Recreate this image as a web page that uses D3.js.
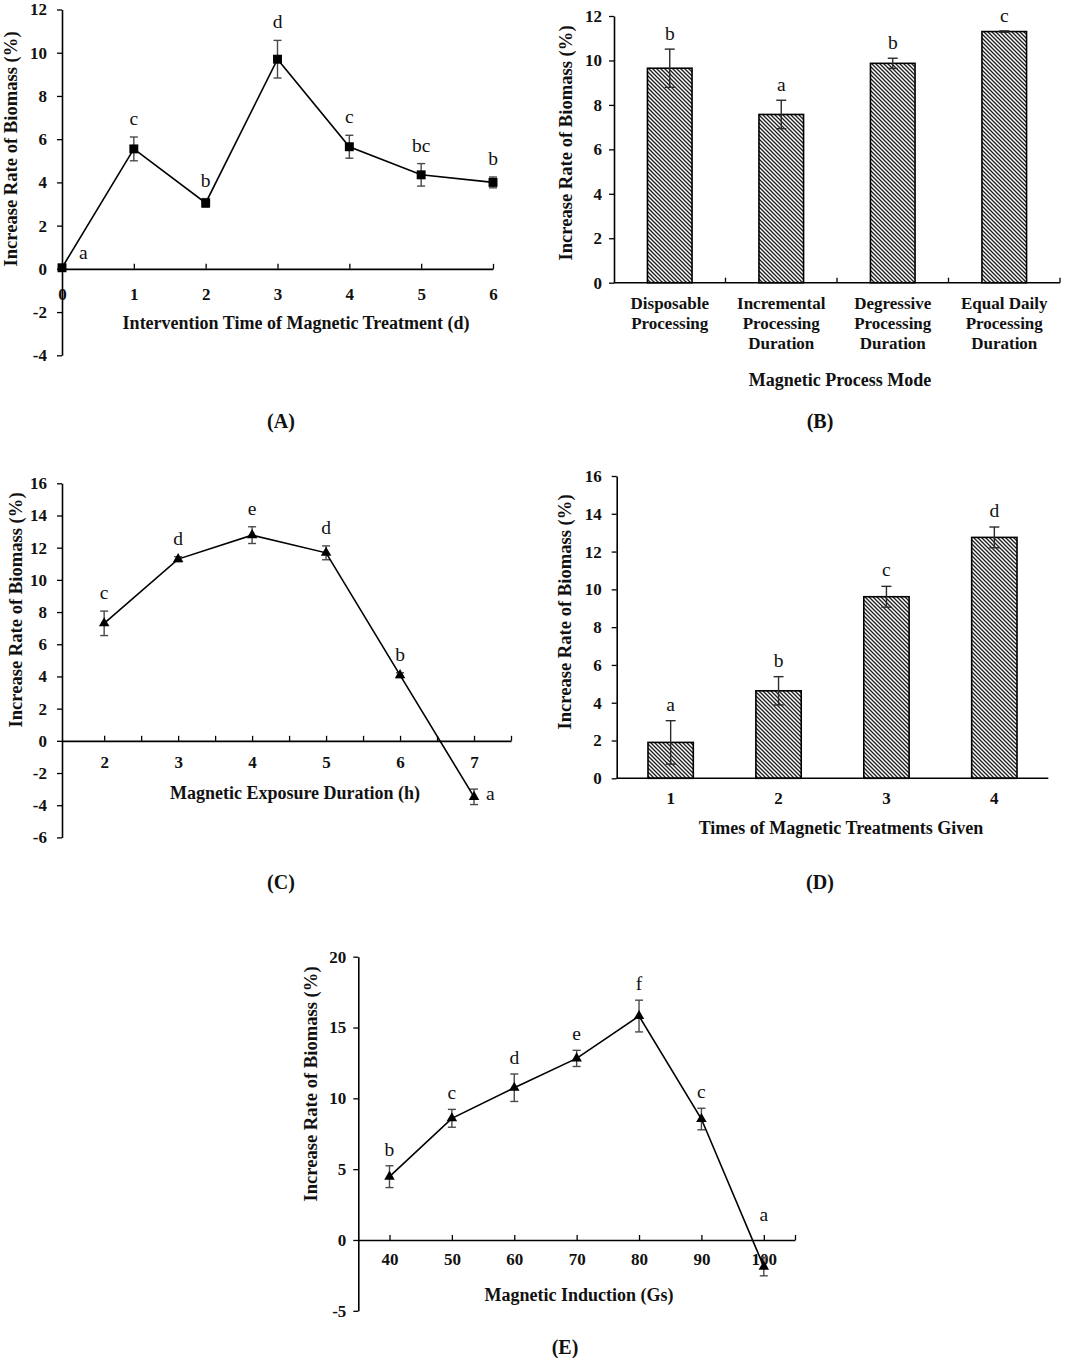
<!DOCTYPE html>
<html><head><meta charset="utf-8">
<script src="https://cdn.jsdelivr.net/npm/d3@7"></script>
<style>
html,body{margin:0;padding:0;background:#fff;}
svg{display:block;}
</style></head><body>
<svg id="chart" width="1080" height="1358"></svg>
<script>
// ---------------- DATA ----------------
// (A) Intervention time of magnetic treatment
const A_days    = [0, 1, 2, 3, 4, 5, 6];
const A_values  = [0.05, 5.55, 3.05, 9.7, 5.65, 4.35, 4.0];
const A_errors  = [0, 0.55, 0.2, 0.87, 0.53, 0.52, 0.25];
const A_letters = ["a", "c", "b", "d", "c", "bc", "b"];
const A_yTicks  = [-4, -2, 0, 2, 4, 6, 8, 10, 12];
const A_xTicks  = [0, 1, 2, 3, 4, 5, 6];

// (B) Magnetic process mode
const B_modes   = ["Disposable Processing", "Incremental Processing Duration", "Degressive Processing Duration", "Equal Daily Processing Duration"];
const B_modeLines = [["Disposable", "Processing"], ["Incremental", "Processing", "Duration"], ["Degressive", "Processing", "Duration"], ["Equal Daily", "Processing", "Duration"]];
const B_values  = [9.65, 7.57, 9.87, 11.3];
const B_errors  = [0.86, 0.64, 0.23, 0.03];
const B_letters = ["b", "a", "b", "c"];
const B_yTicks  = [0, 2, 4, 6, 8, 10, 12];

// (C) Magnetic exposure duration
const C_hours   = [2, 3, 4, 5, 6, 7];
const C_values  = [7.3, 11.29, 12.78, 11.68, 4.08, -3.48];
const C_errors  = [0.76, 0.15, 0.52, 0.43, 0.15, 0.48];
const C_letters = ["c", "d", "e", "d", "b", "a"];
const C_yTicks  = [-6, -4, -2, 0, 2, 4, 6, 8, 10, 12, 14, 16];
const C_xTicks  = [2, 2.5, 3, 3.5, 4, 4.5, 5, 5.5, 6, 6.5, 7, 7.5];

// (D) Times of magnetic treatments given
const D_times   = ["1", "2", "3", "4"];
const D_values  = [1.9, 4.63, 9.61, 12.75];
const D_errors  = [1.15, 0.75, 0.55, 0.55];
const D_letters = ["a", "b", "c", "d"];
const D_yTicks  = [0, 2, 4, 6, 8, 10, 12, 14, 16];

// (E) Magnetic induction
const E_gs      = [40, 50, 60, 70, 80, 90, 100];
const E_values  = [4.47, 8.59, 10.75, 12.82, 15.81, 8.54, -1.88];
const E_errors  = [0.77, 0.63, 0.97, 0.57, 1.12, 0.76, 0.65];
const E_letters = ["b", "c", "d", "e", "f", "c", "a"];
const E_yTicks  = [-5, 0, 5, 10, 15, 20];
const E_xTicks  = [40, 50, 60, 70, 80, 90, 100, 105];

const Y_TITLE = "Increase Rate of Biomass (%)";

// ---------------- DRAWING ----------------
const FONT = "'Liberation Serif','Times New Roman',Times,serif";
const svg = d3.select("#chart").attr("font-family", FONT);

const defs = svg.append("defs");
const P = 4;
const pat = defs.append("pattern").attr("id", "hatch").attr("patternUnits", "userSpaceOnUse")
  .attr("width", P).attr("height", P);
pat.append("rect").attr("width", P).attr("height", P).attr("fill", "#fff");
pat.append("path").attr("d", `M-1,-1L${P+1},${P+1}M${P-1},-1L${P+1},1M-1,${P-1}L1,${P+1}`)
  .attr("stroke", "#1e1e1e").attr("stroke-width", 1.35);

function styleAxis(sel, size) {
  sel.attr("font-family", FONT).attr("font-size", size).attr("font-weight", "bold");
  sel.select(".domain").attr("stroke", "#000").attr("stroke-width", 1.6);
  sel.selectAll(".tick line").attr("stroke", "#000").attr("stroke-width", 1.3);
  sel.selectAll(".tick text").attr("fill", "#111");
}

function yAxis(x0, y, ticks, pad) {
  svg.append("g").attr("transform", `translate(${x0},0)`)
    .call(d3.axisLeft(y).tickValues(ticks).tickSizeInner(5).tickSizeOuter(0).tickPadding(pad).tickFormat(d => String(d)))
    .call(s => styleAxis(s, 17));
}

function yTitle(xb, yc) {
  svg.append("text").attr("transform", `translate(${xb},${yc}) rotate(-90)`)
    .attr("text-anchor", "middle").attr("font-size", 18.6).attr("font-weight", "bold")
    .attr("fill", "#111").text(Y_TITLE);
}
function title(x, y, t, size) {
  svg.append("text").attr("x", x).attr("y", y).attr("text-anchor", "middle")
    .attr("font-size", size).attr("font-weight", "bold").attr("fill", "#111").text(t);
}

function errorBars(xs, y, vals, errs, cap, color) {
  const g = svg.append("g").attr("stroke", color).attr("stroke-width", 1.4).attr("fill", "none");
  vals.forEach((v, i) => {
    if (!errs[i]) return;
    const x = xs[i], t = y(v + errs[i]), b = y(v - errs[i]);
    g.append("line").attr("x1", x).attr("x2", x).attr("y1", t).attr("y2", b);
    g.append("line").attr("x1", x - cap / 2).attr("x2", x + cap / 2).attr("y1", t).attr("y2", t);
    g.append("line").attr("x1", x - cap / 2).attr("x2", x + cap / 2).attr("y1", b).attr("y2", b);
  });
}

function letters(xs, y, vals, errs, labs, off, special) {
  labs.forEach((l, i) => {
    let x = xs[i], yy = y(vals[i] + errs[i]) - off, anchor = "middle";
    if (special && special.index === i) {
      if (special.mode === "right") { x = xs[i] + special.dx; yy = y(vals[i]) + special.dy; anchor = "start"; }
      if (special.mode === "aboveZero") { yy = y(0) - special.dy; }
    }
    svg.append("text").attr("x", x).attr("y", yy).attr("text-anchor", anchor)
      .attr("font-size", 19.5).attr("fill", "#111").text(l);
  });
}

function linePanel(o) {
  const x = d3.scaleLinear().domain(o.xDomain).range(o.xRange);
  const y = d3.scaleLinear().domain(o.yDomain).range(o.yRange);
  yAxis(o.xRange[0], y, o.yTicks, o.yPad);
  svg.append("g").attr("transform", `translate(0,${y(0)})`)
    .call(d3.axisBottom(x).tickValues(o.xTicks).tickSizeInner(-5).tickSizeOuter(0).tickPadding(o.xPad)
      .tickFormat(d => (o.xLabels.includes(d) ? String(d) : "")))
    .call(s => styleAxis(s, 17));
  const xs = o.xs.map(d => x(d));
  errorBars(xs, y, o.values, o.errors, 8, "#4a4a4a");
  const line = d3.line().x((d, i) => xs[i]).y(d => y(d));
  svg.append("path").datum(o.values).attr("d", line).attr("fill", "none")
    .attr("stroke", "#000").attr("stroke-width", 1.6);
  const sym = d3.symbol().type(o.symbol).size(o.symSize);
  svg.append("g").selectAll("path").data(o.values).join("path")
    .attr("transform", (d, i) => `translate(${xs[i]},${y(d)})`).attr("d", sym).attr("fill", "#000");
  letters(xs, y, o.values, o.errors, o.letters, o.letterOff, o.special);
}

function barPanel(o) {
  const x = d3.scaleBand().domain(o.cats).range(o.xRange).paddingInner(o.padIn).paddingOuter(o.padOut);
  const y = d3.scaleLinear().domain(o.yDomain).range(o.yRange);
  yAxis(o.xRange[0], y, o.yTicks, o.yPad);
  svg.append("g").selectAll("rect").data(o.values).join("rect")
    .attr("x", (d, i) => x(o.cats[i])).attr("width", x.bandwidth())
    .attr("y", d => y(d)).attr("height", d => y(0) - y(d))
    .attr("fill", "url(#hatch)").attr("stroke", "#000").attr("stroke-width", 1.6);
  const g = svg.append("g").attr("stroke", "#000");
  g.append("line").attr("x1", o.xRange[0]).attr("x2", o.xRange[1]).attr("y1", y(0)).attr("y2", y(0)).attr("stroke-width", 1.6);
  if (o.boundaryTicks) {
    o.cats.forEach(c => {
      const bx = x(c) + x.bandwidth() + x.step() * o.padIn / 2 + (c === o.cats[o.cats.length - 1] ? x.step() * (o.padOut - o.padIn / 2) : 0);
      g.append("line").attr("x1", bx).attr("x2", bx).attr("y1", y(0)).attr("y2", y(0) - 5).attr("stroke-width", 1.3);
    });
  }
  const xs = o.cats.map(c => x(c) + x.bandwidth() / 2);
  errorBars(xs, y, o.values, o.errors, 10, "#2a2a2a");
  letters(xs, y, o.values, o.errors, o.letters, o.letterOff);
  o.catLines.forEach((lines, i) => {
    const t = svg.append("text").attr("text-anchor", "middle").attr("font-size", 17)
      .attr("font-weight", "bold").attr("fill", "#111");
    lines.forEach((ln, j) => t.append("tspan").attr("x", xs[i]).attr("y", y(0) + o.catDy + j * o.catLh).text(ln));
  });
}

// ---- Panel A ----
linePanel({
  xDomain: [0, 6], xRange: [62, 493], yDomain: [-4, 12], yRange: [355.3, 9.5],
  yTicks: A_yTicks, yPad: 10, xTicks: A_xTicks, xLabels: A_xTicks, xPad: 19,
  xs: A_days, values: A_values, errors: A_errors, letters: A_letters,
  symbol: d3.symbolSquare, symSize: 80, letterOff: 12,
  special: { index: 0, mode: "right", dx: 17, dy: -9 }
});
yTitle(17, 149);
title(296, 329, "Intervention Time of Magnetic Treatment (d)", 18);
title(281, 428, "(A)", 20);

// ---- Panel B ----
barPanel({
  cats: B_modes, catLines: B_modeLines, xRange: [614, 1060], padIn: 0.6, padOut: 0.3,
  yDomain: [0, 12], yRange: [282.7, 16], yTicks: B_yTicks, yPad: 7,
  values: B_values, errors: B_errors, letters: B_letters, letterOff: 9,
  boundaryTicks: true, catDy: 26, catLh: 20
});
yTitle(572, 143);
title(840, 386, "Magnetic Process Mode", 18);
title(820, 428, "(B)", 20);

// ---- Panel C ----
linePanel({
  xDomain: [1.43, 7.5], xRange: [62, 511], yDomain: [-6, 16], yRange: [837.4, 483.3],
  yTicks: C_yTicks, yPad: 10, xTicks: C_xTicks, xLabels: C_hours, xPad: 15,
  xs: C_hours, values: C_values, errors: C_errors, letters: C_letters,
  symbol: d3.symbolTriangle, symSize: 48, letterOff: 12,
  special: { index: 5, mode: "right", dx: 12, dy: 3 }
});
yTitle(22, 610);
title(295, 799, "Magnetic Exposure Duration (h)", 18);
title(281, 889, "(C)", 20);

// ---- Panel D ----
barPanel({
  cats: D_times, catLines: D_times.map(d => [d]), xRange: [616.7, 1048.3], padIn: 0.58, padOut: 0.29,
  yDomain: [0, 16], yRange: [778.3, 476], yTicks: D_yTicks, yPad: 10,
  values: D_values, errors: D_errors, letters: D_letters, letterOff: 10,
  boundaryTicks: false, catDy: 26, catLh: 20
});
yTitle(571, 612);
title(841, 834, "Times of Magnetic Treatments Given", 18);
title(820, 889, "(D)", 20);

// ---- Panel E ----
linePanel({
  xDomain: [35, 105], xRange: [358.3, 795], yDomain: [-5, 20], yRange: [1310.8, 956.7],
  yTicks: E_yTicks, yPad: 7, xTicks: E_xTicks, xLabels: E_gs, xPad: 13,
  xs: E_gs, values: E_values, errors: E_errors, letters: E_letters,
  symbol: d3.symbolTriangle, symSize: 48, letterOff: 10,
  special: { index: 6, mode: "aboveZero", dy: 19 }
});
yTitle(317, 1084);
title(579, 1301, "Magnetic Induction (Gs)", 18);
title(565, 1354, "(E)", 20);
</script>
</body></html>
